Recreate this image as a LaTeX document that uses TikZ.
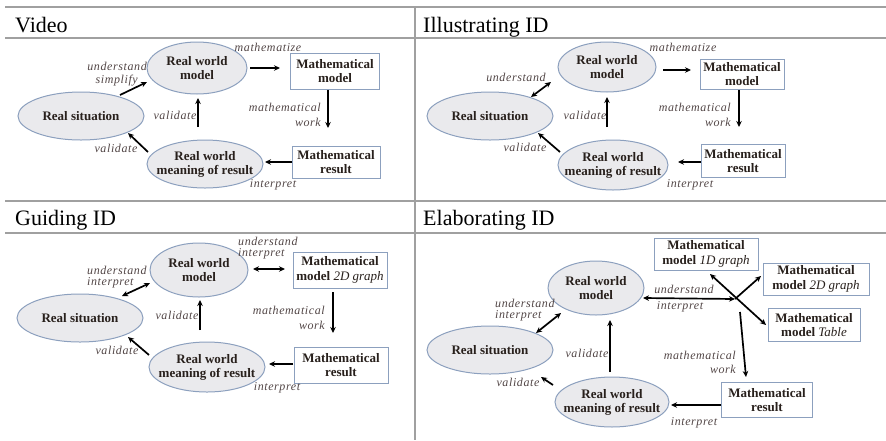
\documentclass[tikz,border=0pt]{standalone}
\usepackage{fontspec}
\setmainfont{Liberation Serif}
\newfontfamily\lblfont{Liberation Serif}[LetterSpace=5]
\usetikzlibrary{shapes.geometric,arrows.meta}

\definecolor{rulegray}{RGB}{160,160,160}
\definecolor{ovalline}{RGB}{140,160,190}
\definecolor{ovalfill}{RGB}{234,234,237}
\definecolor{boxline}{RGB}{140,160,190}
\definecolor{nodetxt}{RGB}{40,32,28}
\definecolor{lbltxt}{RGB}{82,70,70}

\tikzset{
  rule/.style={draw=rulegray, line width=1.2pt},
  head/.style={anchor=base west, inner sep=0pt, text=black,
    font=\fontsize{22}{26}\selectfont},
  oval/.style={ellipse, draw=ovalline, fill=ovalfill, line width=1pt,
    inner xsep=-14pt, inner ysep=-4pt, align=center, text=nodetxt,
    font=\fontsize{13}{14}\selectfont\bfseries},
  mbox/.style={rectangle, draw=boxline, fill=white, line width=1pt,
    inner sep=1pt, align=center, text=nodetxt,
    font=\fontsize{13}{14.5}\selectfont\bfseries},
  lbl/.style={inner sep=0pt, text=lbltxt,
    font=\fontsize{12}{11.5}\selectfont\lblfont\itshape},
  lblwide/.style={lbl, font=\fontsize{12}{15}\selectfont\lblfont\itshape},
  tip/.tip={Stealth[length=6pt,width=5.5pt]},
  arr/.style={line width=1.7pt, -tip},
  darr/.style={line width=1.7pt, tip-tip},
}

\begin{document}
\begin{tikzpicture}[x=1pt,y=-1pt]
\useasboundingbox (0,0) rectangle (886,440);

% table rules
\draw[rule] (5,7) -- (886,7);
\draw[rule] (5,38) -- (886,38);
\draw[rule] (5,201) -- (886,201);
\draw[rule] (5,233) -- (886,233);
\draw[rule] (415,7) -- (415,440);

% headings
\node[head] (h1) at (15,32) {Video};
\node[head] (h2) at (423,32) {Illustrating ID};
\node[head] (h3) at (15,225) {Guiding ID};
\node[head] (h4) at (423,225) {Elaborating ID};

% ---------- Video ----------
\node[oval, minimum width=126pt, minimum height=48pt] (rs1) at (81,116) {Real situation};
\node[oval, minimum width=100pt, minimum height=52pt] (rwm1) at (197,68) {Real world\\model};
\node[mbox, minimum width=89pt, minimum height=36pt] (mm1) at (335,71) {Mathematical\\model};
\node[mbox, minimum width=88pt, minimum height=32pt] (mr1) at (336,162) {Mathematical\\result};
\node[oval, minimum width=116pt, minimum height=48pt] (mean1) at (205,164) {Real world\\meaning of result};

\draw[arr] ([shift={(39,-21)}]rs1.center) -- ([shift={(-50,14)}]rwm1.center);
\draw[arr] ([shift={(53,0)}]rwm1.center) -- ([shift={(-55,-3)}]mm1.center);
\draw[arr] ([shift={(-7,19)}]mm1.center) -- ([shift={(-8,-34)}]mr1.center);
\draw[arr] ([shift={(-44,0)}]mr1.center) -- ([shift={(60,-2)}]mean1.center);
\draw[arr] ([shift={(-7,-37)}]mean1.center) -- ([shift={(1,30)}]rwm1.center);
\draw[arr] ([shift={(-57,-12)}]mean1.center) -- ([shift={(47,17)}]rs1.center);

\node[lbl, anchor=east] (u1) at (147,66) {understand};
\node[lbl, anchor=east] (s1) at (138,81) {simplify};
\node[lbl] (mz1) at (268,47) {mathematize};
\node[lbl] (v1a) at (175,115) {validate};
\node[lblwide, anchor=east, align=right] (w1) at (321,115) {mathematical\\work};
\node[lbl] (v1b) at (116,148) {validate};
\node[lbl] (i1) at (273,185) {interpret};

% ---------- Illustrating ID ----------
\node[oval, minimum width=126pt, minimum height=48pt] (rs2) at (490,116) {Real situation};
\node[oval, minimum width=98pt, minimum height=50pt] (rwm2) at (607,67) {Real world\\model};
\node[mbox, minimum width=84pt, minimum height=30pt] (mm2) at (742,74) {Mathematical\\model};
\node[mbox, minimum width=84pt, minimum height=33pt] (mr2) at (743,161) {Mathematical\\result};
\node[oval, minimum width=110pt, minimum height=50pt] (mean2) at (613,165) {Real world\\meaning of result};

\draw[darr] ([shift={(41,-19)}]rs2.center) -- ([shift={(-56,15)}]rwm2.center);
\draw[arr] ([shift={(56,3)}]rwm2.center) -- ([shift={(-51,-4)}]mm2.center);
\draw[arr] ([shift={(-3,16)}]mm2.center) -- ([shift={(-4,-34)}]mr2.center);
\draw[arr] ([shift={(-42,1)}]mr2.center) -- ([shift={(65,-3)}]mean2.center);
\draw[arr] ([shift={(-6,-38)}]mean2.center) -- ([shift={(0,30)}]rwm2.center);
\draw[arr] ([shift={(-53,-13)}]mean2.center) -- ([shift={(48,17)}]rs2.center);

\node[lbl] (mz2) at (683,47) {mathematize};
\node[lbl] (u2) at (516,77) {understand};
\node[lbl] (v2a) at (585,115) {validate};
\node[lblwide, anchor=east, align=right] (w2) at (731,115) {mathematical\\work};
\node[lbl] (v2b) at (525,147) {validate};
\node[lbl] (i2) at (690,185) {interpret};

% ---------- Guiding ID ----------
\node[oval, minimum width=126pt, minimum height=48pt] (rs3) at (80,318) {Real situation};
\node[oval, minimum width=98pt, minimum height=54pt] (rwm3) at (199,270) {Real world\\model};
\node[mbox, minimum width=94pt, minimum height=36pt] (mm3) at (340,270) {Mathematical\\model \textit{\mdseries 2D graph}};
\node[mbox, minimum width=94pt, minimum height=36pt] (mr3) at (341,365) {Mathematical\\result};
\node[oval, minimum width=116pt, minimum height=50pt] (mean3) at (207,367) {Real world\\meaning of result};

\draw[darr] ([shift={(42,-22)}]rs3.center) -- ([shift={(-49,13)}]rwm3.center);
\draw[darr] ([shift={(54,-1)}]rwm3.center) -- ([shift={(-55,-1)}]mm3.center);
\draw[arr] ([shift={(-7,22)}]mm3.center) -- ([shift={(-8,-32)}]mr3.center);
\draw[arr] ([shift={(-48,-1)}]mr3.center) -- ([shift={(62,-3)}]mean3.center);
\draw[arr] ([shift={(-7,-37)}]mean3.center) -- ([shift={(1,30)}]rwm3.center);
\draw[arr] ([shift={(-58,-12)}]mean3.center) -- ([shift={(48,19)}]rs3.center);

\node[lbl, anchor=west, align=left] (ui3a) at (87,277) {understand\\interpret};
\node[lbl, anchor=west, align=left] (ui3b) at (238,248) {understand\\interpret};
\node[lbl] (v3a) at (177,315) {validate};
\node[lblwide, anchor=east, align=right] (w3) at (325,318) {mathematical\\work};
\node[lbl] (v3b) at (117,350) {validate};
\node[lbl] (i3) at (277,388) {interpret};

% ---------- Elaborating ID ----------
\node[oval, minimum width=126pt, minimum height=48pt] (rs4) at (490,350) {Real situation};
\node[oval, minimum width=96pt, minimum height=54pt] (rwm4) at (596,288) {Real world\\model};
\node[mbox, minimum width=104pt, minimum height=32pt] (mm4a) at (706,254) {Mathematical\\model \textit{\mdseries 1D graph}};
\node[mbox, minimum width=106pt, minimum height=32pt] (mm4b) at (816,279) {Mathematical\\model \textit{\mdseries 2D graph}};
\node[mbox, minimum width=92pt, minimum height=33pt] (mm4c) at (814,325) {Mathematical\\model \textit{\mdseries Table}};
\node[mbox, minimum width=91pt, minimum height=35pt] (mr4) at (767,400) {Mathematical\\result};
\node[oval, minimum width=114pt, minimum height=50pt] (mean4) at (612,402) {Real world\\meaning of result};
\coordinate (hub) at (735,299);

\draw[darr] ([shift={(46,-17)}]rs4.center) -- ([shift={(-35,25)}]rwm4.center);
\draw[darr] ([shift={(47,10)}]rwm4.center) -- (hub);
\draw[darr] ([shift={(4,20)}]mm4a.center) -- ([shift={(-48,0)}]mm4c.center);
\draw[arr] (hub) -- ([shift={(-55,-3)}]mm4b.center);
\draw[arr] ([shift={(5,13)}]hub) -- ([shift={(-21,-23)}]mr4.center);
\draw[arr] ([shift={(-46,5)}]mr4.center) -- ([shift={(59,3)}]mean4.center);
\draw[arr] ([shift={(-2,-30)}]mean4.center) -- ([shift={(14,32)}]rwm4.center);
\draw[arr] ([shift={(-59,-17)}]mean4.center) -- ([shift={(51,27)}]rs4.center);

\node[lbl, anchor=west, align=left] (ui4) at (495,310) {understand\\interpret};
\node[lbl] (u4) at (684,289) {understand};
\node[lbl] (i4) at (680,307) {interpret};
\node[lbl] (v4a) at (587,353) {validate};
\node[lbl, font=\fontsize{12}{14}\selectfont\lblfont\itshape, anchor=east, align=right] (w4) at (736,362) {mathematical\\work};
\node[lbl] (v4b) at (518,382) {validate};
\node[lbl] (i4b) at (694,423) {interpret};

\end{tikzpicture}
\end{document}
